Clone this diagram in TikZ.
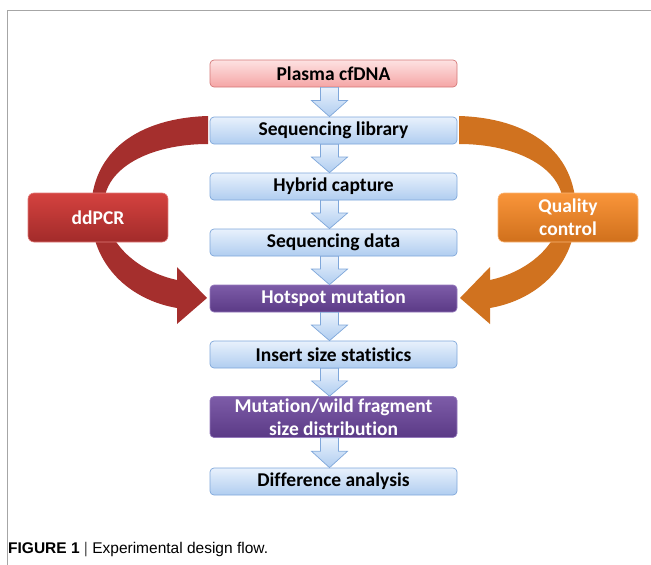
\documentclass[tikz,border=0pt]{standalone}
\usepackage{fontspec}
\setmainfont[Ligatures=CommonOff]{Carlito}
\newfontfamily\capfont{Liberation Sans}
\usetikzlibrary{calc}
\definecolor{blueT}{HTML}{E8F1FC}
\definecolor{blueB}{HTML}{B0CDF0}
\definecolor{blueD}{HTML}{7FA7DA}
\definecolor{pinkT}{HTML}{FDE2E2}
\definecolor{pinkB}{HTML}{F5A5A5}
\definecolor{pinkD}{HTML}{D47878}
\definecolor{purT}{HTML}{7D5CA8}
\definecolor{purB}{HTML}{5B3A86}
\definecolor{purD}{HTML}{9478BC}
\definecolor{redT}{HTML}{D4423F}
\definecolor{redB}{HTML}{A22B2A}
\definecolor{redA}{HTML}{A52F2D}
\definecolor{orT}{HTML}{F9953A}
\definecolor{orB}{HTML}{D0701C}
\definecolor{orA}{HTML}{D0721F}
\definecolor{frameg}{HTML}{A6A6A6}
\tikzset{
  box/.style={draw, rounded corners=4pt, minimum width=247pt, minimum height=27pt,
    inner sep=0pt, line width=0.7pt, align=center,
    font=\fontsize{19.5}{23}\selectfont\bfseries},
  bluebox/.style={box, top color=blueT, bottom color=blueB, draw=blueD, text=black},
  pinkbox/.style={box, top color=pinkT, bottom color=pinkB, draw=pinkD, text=black},
  purbox/.style={box, top color=purT, bottom color=purB, draw=purD, text=white},
  sidebox/.style={draw, rounded corners=6pt, minimum width=140pt, minimum height=49pt,
    inner sep=0pt, line width=0.6pt, align=center, text=white,
    font=\fontsize{19.5}{23}\selectfont\bfseries},
  flowarr/.style={top color=blueT, bottom color=blueB, draw=blueD, line width=0.7pt, line join=miter}
}
\newcommand\flowarrow[2]{%
  \path[flowarr] let \p1=($(#1.south)+(-4pt,0)$), \p2=($(#2.north)+(-4pt,0)$),
    \n1={\y2+0.55*(\y1-\y2)} in
    ({\x1-9pt},\y1) -- ({\x1+9pt},\y1) -- ({\x1+9pt},\n1) -- ({\x1+18pt},\n1)
    -- (\x2,\y2) -- ({\x1-18pt},\n1) -- ({\x1-9pt},\n1) -- cycle;}
\begin{document}
\begin{tikzpicture}[x=1pt,y=-1pt]
\useasboundingbox (0,0) rectangle (651,565);
\draw[frameg, line width=1pt] (7.5,565) -- (7.5,10.5) -- (651,10.5);
% curved arrows
\fill[redA] (208,116) .. controls (140,118) and (91,150) .. (91,212)
  .. controls (91,265) and (130,300) .. (177,308) -- (177,324) -- (207,298)
  -- (177,267) -- (177,280) .. controls (140,272) and (105,245) .. (104,205)
  .. controls (104,168) and (150,144) .. (208,144) -- cycle;
\begin{scope}[shift={(667,0)}, xscale=-1]
\fill[orA] (208,116) .. controls (140,118) and (91,150) .. (91,212)
  .. controls (91,265) and (130,300) .. (177,308) -- (177,324) -- (207,298)
  -- (177,267) -- (177,280) .. controls (140,272) and (105,245) .. (104,205)
  .. controls (104,168) and (150,144) .. (208,144) -- cycle;
\end{scope}
% boxes
\node[pinkbox] (n1) at (333.5,73.5) {Plasma cfDNA};
\node[bluebox] (n2) at (333.5,130.5) {Sequencing library};
\node[bluebox] (n3) at (333.5,186.5) {Hybrid capture};
\node[bluebox] (n4) at (333.5,242.5) {Sequencing data};
\node[purbox] (n5) at (333.5,298.5) {Hotspot mutation};
\node[bluebox] (n6) at (333.5,354.5) {Insert size statistics};
\node[purbox, minimum height=41pt] (n7) at (333.5,417) {Mutation/wild fragment\\size distribution};
\node[bluebox] (n8) at (333.5,481.5) {Difference analysis};
\node[sidebox, top color=redT, bottom color=redB, draw=redT!70!white] (dd) at (98,217.5) {ddPCR};
\node[sidebox, top color=orT, bottom color=orB, draw=orT!70!white] (qc) at (568,217.5) {Quality\\control};
\flowarrow{n1}{n2}
\flowarrow{n2}{n3}
\flowarrow{n3}{n4}
\flowarrow{n4}{n5}
\flowarrow{n5}{n6}
\flowarrow{n6}{n7}
\flowarrow{n7}{n8}
\node[anchor=base west, inner sep=0pt, font=\capfont\fontsize{15.5}{18}\selectfont] (cap) at (8,553)
  {\textbf{FIGURE 1} {\color{black!70}|} Experimental design flow.};
\end{tikzpicture}
\end{document}
